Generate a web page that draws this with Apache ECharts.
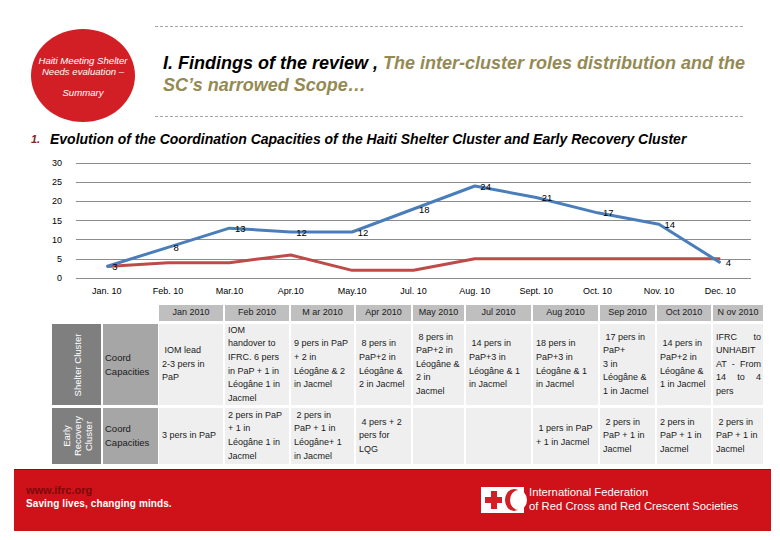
<!DOCTYPE html>
<html>
<head>
<meta charset="utf-8">
<script src="https://cdn.jsdelivr.net/npm/echarts@6/dist/echarts.min.js"></script>
<style>
  html,body{margin:0;padding:0;background:#fff;}
  body{width:780px;height:540px;position:relative;overflow:hidden;font-family:"Liberation Sans",Arial,sans-serif;}
  .abs{position:absolute;}
  .dash{position:absolute;left:155px;width:588px;border-top:1px dashed #a6a6a6;height:0;}
  .cell{position:absolute;box-sizing:border-box;font-size:9px;line-height:13.6px;color:#1a1a1a;display:flex;align-items:center;white-space:pre;overflow:hidden;}
</style>
</head>
<body>
<div id="chart" class="abs" style="left:0;top:0;width:780px;height:300px;"></div>

<!-- header decorations -->
<div class="dash" style="top:26px;"></div>
<div class="dash" style="top:116px;"></div>
<div class="abs" style="left:31px;top:29px;width:104px;height:93px;border-radius:50%;background:#d21f26;"></div>
<div class="abs" id="badge" style="left:28px;top:56px;width:110px;text-align:center;color:#fff;font-style:italic;font-size:9.6px;line-height:10.5px;white-space:pre;"></div>
<div class="abs" id="title1" style="left:163px;top:52px;white-space:nowrap;font-style:italic;font-weight:bold;font-size:18px;line-height:22px;"></div>
<div class="abs" id="title2" style="left:163px;top:74px;white-space:nowrap;font-style:italic;font-weight:bold;font-size:18px;line-height:22px;color:#948a54;"></div>
<div class="abs" style="left:31px;top:133px;font-size:11px;font-style:italic;font-weight:bold;color:#8b1c1c;">1.</div>
<div class="abs" id="subtitle" style="left:50px;top:131px;white-space:nowrap;font-size:14px;font-style:italic;font-weight:bold;color:#000;font-family:'Liberation Sans Narrow','Liberation Sans',sans-serif;"></div>

<div id="table"></div>

<!-- footer -->
<div class="abs" style="left:14px;top:469px;width:757px;height:61px;background:#cf1119;border-top:1px solid #8a0e0e;"></div>
<div class="abs" id="url" style="left:26px;top:484px;font-size:11px;font-weight:bold;color:#7c0a0a;"></div>
<div class="abs" id="slogan" style="left:26px;top:498px;font-size:10px;font-weight:bold;color:#fff;letter-spacing:0.1px;"></div>
<div class="abs" style="left:481px;top:487px;width:43px;height:26px;background:#fff;"></div>
<div class="abs" style="left:485px;top:497px;width:17px;height:6px;background:#d21f26;"></div>
<div class="abs" style="left:490.5px;top:491px;width:6px;height:18px;background:#d21f26;"></div>
<div class="abs" style="left:505px;top:489px;width:18px;height:22px;border-radius:50%;background:#d21f26;"></div>
<div class="abs" style="left:510px;top:490px;width:17px;height:20px;border-radius:50%;background:#fff;"></div>
<div class="abs" id="org" style="left:529px;top:485px;font-size:11.3px;line-height:14px;color:#fff;white-space:pre;"></div>

<script>
// ---------------- data ----------------
const months = ["Jan. 10","Feb. 10","Mar.10","Apr.10","May.10","Jul. 10","Aug. 10","Sept. 10","Oct. 10","Nov. 10","Dec. 10"];
const shelterCluster = [3, 8, 13, 12, 12, 18, 24, 21, 17, 14, 4];
const earlyRecoveryCluster = [3, 4, 4, 6, 2, 2, 5, 5, 5, 5, 5];
const yTicks = {min: 0, max: 30, interval: 5};

const badgeText = "Haiti Meeting Shelter\nNeeds evaluation –\n\nSummary";
const titleBlack = "I. Findings of the review , ";
const titleOliveLine1 = "The inter-cluster roles distribution and the";
const titleOliveLine2 = "SC’s narrowed Scope…";
const subtitleText = "Evolution of the Coordination Capacities of the Haiti Shelter Cluster and Early Recovery Cluster";

const tableHeaders = ["Jan 2010","Feb 2010","M ar 2010","Apr 2010","May 2010","Jul 2010","Aug 2010","Sep 2010","Oct 2010","N ov 2010"];
const rowGroupLabels = ["Shelter Cluster", "Early\nRecovery\nCluster"];
const rowSubLabels = ["Coord\nCapacities", "Coord\nCapacities"];
const shelterCoord = [
  " IOM lead\n2-3 pers in\nPaP",
  "IOM\nhandover to\nIFRC. 6 pers\nin PaP + 1 in\nLéogâne 1 in\nJacmel",
  "9 pers in PaP\n+ 2 in\nLéogâne & 2\nin Jacmel",
  " 8 pers in\nPaP+2 in\nLéogâne &\n2 in Jacmel",
  " 8 pers in\nPaP+2 in\nLéogâne &\n2 in\nJacmel",
  " 14 pers in\nPaP+3 in\nLéogâne & 1\nin Jacmel",
  "18 pers in\nPaP+3 in\nLéogâne & 1\nin Jacmel",
  " 17 pers in\nPaP+\n3 in\nLéogâne &\n1 in Jacmel",
  " 14 pers in\nPaP+2 in\nLéogâne &\n1 in Jacmel",
  "IFRC to\nUNHABIT\nAT - From\n14 to 4\npers"
];
const earlyRecoveryCoord = [
  "3 pers in PaP",
  "2 pers in PaP\n+ 1 in\nLéogâne 1 in\nJacmel",
  " 2 pers in\nPaP + 1 in\nLéogâne+ 1\nin Jacmel",
  " 4 pers + 2\npers for\nLQG",
  "",
  "",
  " 1 pers in PaP\n+ 1 in Jacmel",
  " 2 pers in\nPaP + 1 in\nJacmel",
  "2 pers in\nPaP + 1 in\nJacmel",
  " 2 pers in\nPaP + 1 in\nJacmel"
];
const footerUrl = "www.ifrc.org";
const footerSlogan = "Saving lives, changing minds.";
const footerOrg = "International Federation\nof Red Cross and Red Crescent Societies";

// ---------------- text blocks ----------------
document.getElementById('badge').textContent = badgeText;
(function(){
  const t1 = document.getElementById('title1');
  const a = document.createElement('span'); a.style.color = '#000'; a.textContent = titleBlack;
  const b = document.createElement('span'); b.style.color = '#948a54'; b.textContent = titleOliveLine1;
  t1.appendChild(a); t1.appendChild(b);
  document.getElementById('title2').textContent = titleOliveLine2;
})();
document.getElementById('subtitle').textContent = subtitleText;
document.getElementById('url').textContent = footerUrl;
document.getElementById('slogan').textContent = footerSlogan;
document.getElementById('org').textContent = footerOrg;

// ---------------- table ----------------
(function(){
  const t = document.getElementById('table');
  const edges = [158,224,290,355,412,465,532,599,656,712,764];
  const rows = [[324,405],[408,464]];
  function cell(x,y,w,h,txt,bg,extra){
    const d = document.createElement('div');
    d.className = 'cell';
    d.style.left = x+'px'; d.style.top = y+'px';
    d.style.width = w+'px'; d.style.height = h+'px';
    d.style.background = bg;
    Object.assign(d.style, extra||{});
    const s = document.createElement('div');
    s.textContent = txt;
    s.style.width = '100%';
    if (extra && extra.textAlign) s.style.textAlign = extra.textAlign;
    if (extra && extra.textAlignLast) { s.style.textAlignLast = extra.textAlignLast; s.style.whiteSpace='pre-line'; }
    d.appendChild(s);
    t.appendChild(d);
    return d;
  }
  tableHeaders.forEach((h,i)=>{
    cell(edges[i]+1,305,edges[i+1]-edges[i]-2,16,h,'#bfbfbf',{textAlign:'center',justifyContent:'center'});
  });
  [shelterCoord, earlyRecoveryCoord].forEach((rowData,r)=>{
    const [y0,y1] = rows[r];
    const g = cell(52,y0,49,y1-y0,'','#7f7f7f',{});
    g.innerHTML='';
    const rot = document.createElement('div');
    rot.textContent = rowGroupLabels[r];
    Object.assign(rot.style,{position:'absolute',left:'50%',top:'50%',transform:'translate(-50%,-50%) rotate(-90deg)',color:'#fff',fontSize:'9.5px',lineHeight:'11px',textAlign:'center',whiteSpace:'pre'});
    g.appendChild(rot);
    cell(103,y0,55,y1-y0,rowSubLabels[r],'#a6a6a6',{paddingLeft:'2px',fontSize:'9.5px',lineHeight:'14px'});
    rowData.forEach((txt,i)=>{
      const extra = {paddingLeft:'3px',paddingRight:'2px'};
      if (i === rowData.length-1 && r === 0) { extra.textAlign='justify'; extra.textAlignLast='justify'; }
      cell(edges[i]+1,y0,edges[i+1]-edges[i]-2,y1-y0,txt,'#efefef',extra);
    });
  });
})();

// ---------------- chart ----------------
const chart = echarts.init(document.getElementById('chart'), null, {renderer:'svg'});
const axisFont = "'Liberation Sans Narrow','Liberation Sans',sans-serif";
chart.setOption({
  animation:false,
  grid:{left:76, right:29, top:163, height:115, containLabel:false},
  xAxis:{
    type:'category', data:months, boundaryGap:true,
    axisLine:{show:false}, axisTick:{show:false},
    axisLabel:{color:'#000', fontSize:9, fontFamily:axisFont, margin:8}
  },
  yAxis:{
    type:'value', min:yTicks.min, max:yTicks.max, interval:yTicks.interval,
    axisLine:{show:false}, axisTick:{show:false},
    axisLabel:{color:'#000', fontSize:9, fontFamily:axisFont, margin:14},
    splitLine:{lineStyle:{color:'#8c8c8c', width:1}}
  },
  series:[
    {name:'Shelter Cluster', type:'line', data:shelterCluster,
     symbol:'circle', symbolSize:1, showSymbol:true,
     lineStyle:{color:'#4a7ebb', width:3}, itemStyle:{color:'#4a7ebb'},
     label:{show:true, position:'right', distance:5, color:'#000', fontSize:9.5, fontFamily:axisFont},
     labelLayout:{hideOverlap:false},
     z:3},
    {name:'Early Recovery Cluster', type:'line', data:earlyRecoveryCluster, symbol:'none',
     lineStyle:{color:'#be4b48', width:3}, itemStyle:{color:'#be4b48'}, z:2}
  ]
});
</script>
</body>
</html>
